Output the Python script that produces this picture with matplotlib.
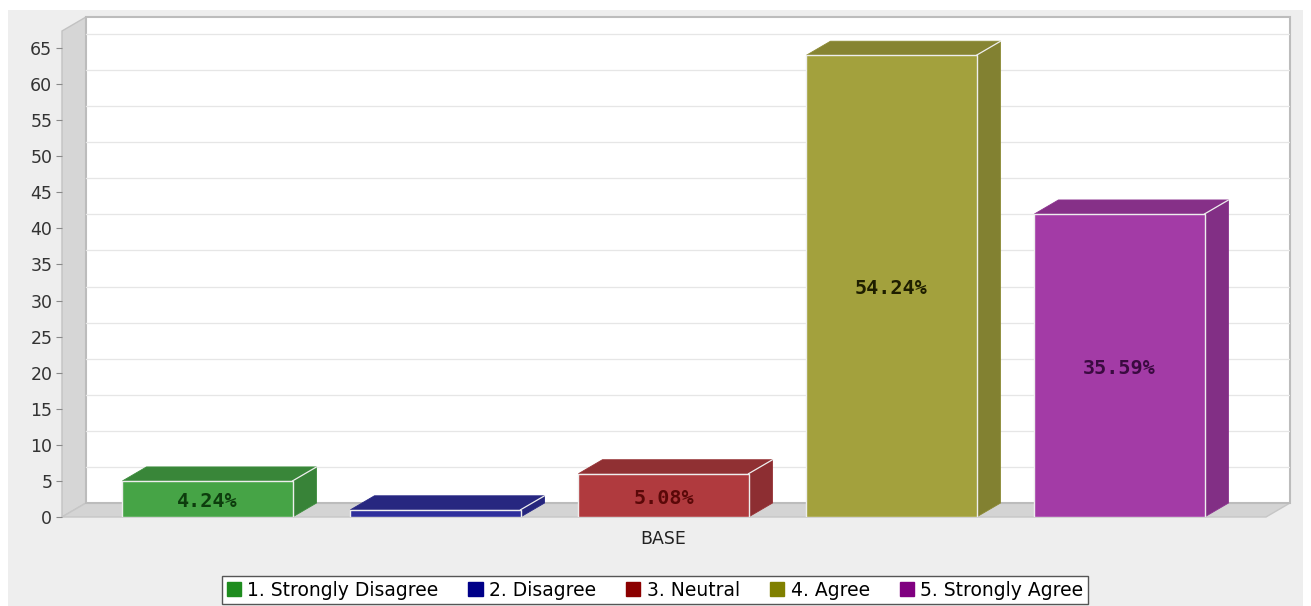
import numpy as np
import matplotlib.pyplot as plt
from matplotlib.patches import Polygon, Rectangle, Patch
from matplotlib.colors import to_rgb

# survey responses for the BASE group
categories = ['1. Strongly Disagree', '2. Disagree', '3. Neutral', '4. Agree', '5. Strongly Agree']
counts = [5, 1, 6, 64, 42]
group_label = 'BASE'
yticks = list(range(0, 70, 5))

front_colors = ['#46a446', '#2f2f9c', '#b03a3e', '#a3a13d', '#a33ba6']
legend_colors = ['#1e8c1e', '#000088', '#8b0000', '#808000', '#800080']
label_colors = ['#0d3d0d', '#10104a', '#5a0808', '#1e1e00', '#3a0a40']


def shade(c, f):
    r, g, b = to_rgb(c)
    return (r * f, g * f, b * f)


W, H = 1311, 606
fig = plt.figure(figsize=(W / 100, H / 100), dpi=100, facecolor='white')
fig.patches.append(Rectangle((8 / W, 0), 1295 / W, 596 / H, transform=fig.transFigure,
                             facecolor='#eeeeee', edgecolor='none', zorder=-10))

ax = fig.add_axes([62 / W, (H - 517) / H, 1228 / W, 500 / H])
ax.set_facecolor('none')

# pixel scale of one unit on each axis, used for the 3d depth offset
px_y = 469 / 65
px_x = 228
x0, x1 = -145.5 / px_x, 1082.5 / px_x
y1 = 500 / px_y
ax.set_xlim(x0, x1)
ax.set_ylim(0, y1)
dx = 24 / px_x
dy = 14 / px_y

# wall, floor and back plane
ax.add_patch(Polygon([(x0, 0), (x0, y1 - dy), (x0 + dx, y1), (x0 + dx, dy)],
                     facecolor='#d6d6d6', edgecolor='#c2c2c2', lw=1, clip_on=False, zorder=0))
ax.add_patch(Polygon([(x0, 0), (x0 + dx, dy), (x1, dy), (x1 - dx, 0)],
                     facecolor='#d4d4d4', edgecolor='#c6c6c6', lw=1, clip_on=False, zorder=0))
ax.add_patch(Rectangle((x0 + dx, dy), x1 - x0 - dx, y1 - dy, facecolor='white',
                       edgecolor='#bcbcbc', lw=1.5, clip_on=False, zorder=0))
for t in yticks[1:]:
    ax.plot([x0 + dx, x1], [t + dy, t + dy], color='#e6e6e6', lw=0.9, zorder=1)

xs = np.arange(len(counts))
w = 0.746
ax.bar(xs, counts, width=w, color=front_colors, edgecolor='#eeeeee', linewidth=1, zorder=4)

total = sum(counts)
for i, (x, h) in enumerate(zip(xs, counts)):
    l, r = x - w / 2, x + w / 2
    top = [(l, h), (l + dx, h + dy), (r + dx, h + dy), (r, h)]
    side = [(r, 0), (r, h), (r + dx, h + dy), (r + dx, dy)]
    ax.add_patch(Polygon(side, facecolor=shade(front_colors[i], 0.8),
                         edgecolor=shade(front_colors[i], 0.86), lw=0.6, zorder=3))
    ax.add_patch(Polygon(top, facecolor=shade(front_colors[i], 0.82),
                         edgecolor=shade(front_colors[i], 0.86), lw=0.6, zorder=3))
    ax.plot([r, r + dx], [h, h + dy], color='#eeeeee', lw=0.9, zorder=5)
    pct = h / total * 100
    if h * px_y > 16:
        ax.text(x, h / 2 - 0.4, f'{pct:.2f}%', ha='center', va='center',
                family='DejaVu Sans Mono', weight='bold', size=14.5,
                color=label_colors[i], zorder=6)

for s in ax.spines.values():
    s.set_visible(False)
ax.set_yticks(yticks)
ax.tick_params(axis='y', length=4, width=0.8, color='#888888', labelsize=12.5,
               labelcolor='#333333', pad=3)
ax.set_xticks([xs.mean()])
ax.set_xticklabels([group_label])
ax.tick_params(axis='x', length=0, labelsize=12.5, labelcolor='#222222', pad=9)

handles = [Patch(facecolor=c, edgecolor=c) for c in legend_colors]
fig.legend(handles, categories, loc='center', bbox_to_anchor=(655 / W, 1 - 590 / H),
           ncol=5, frameon=True, fancybox=False, edgecolor='#555555', framealpha=1,
           facecolor='white', handlelength=0.75, handleheight=0.75, handletextpad=0.35,
           columnspacing=1.6, borderpad=0.25, fontsize=13.5)

fig.savefig('out.png', dpi=100, facecolor=fig.get_facecolor())
